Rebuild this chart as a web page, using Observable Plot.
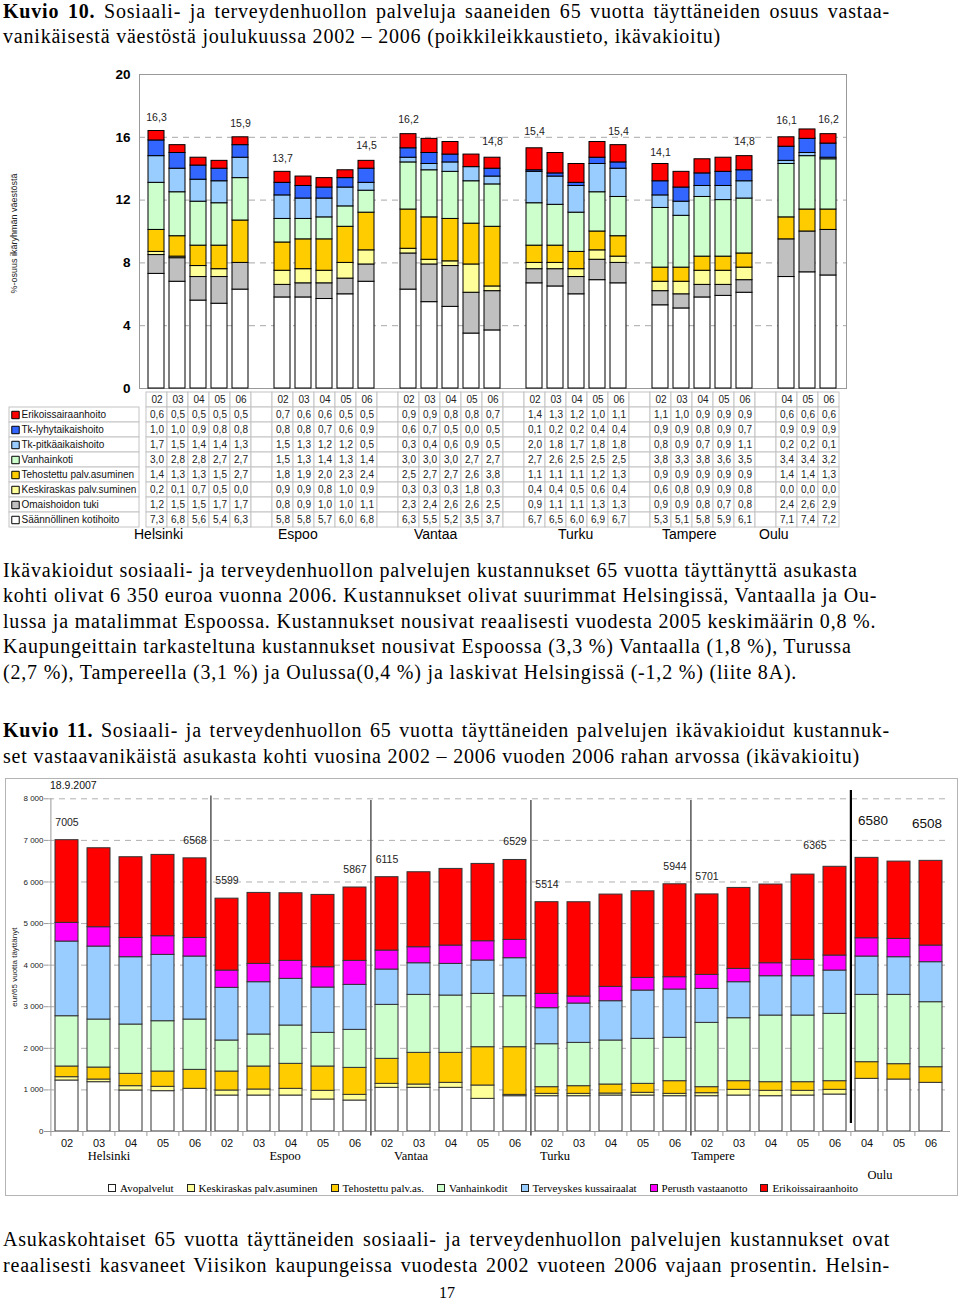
<!DOCTYPE html>
<html><head><meta charset="utf-8">
<script src="https://cdn.jsdelivr.net/npm/d3@7"></script>
<script src="https://cdn.jsdelivr.net/npm/@observablehq/plot@0.6"></script>
<style>
body{margin:0;background:#fff;}
#page{position:relative;width:960px;height:1300px;overflow:hidden;font-family:"Liberation Serif","Times New Roman",serif;color:#000;}
.ln{position:absolute;white-space:nowrap;}
.just{white-space:normal;text-align:justify;text-align-last:justify;}
svg{overflow:visible;}
</style></head><body><div id="page"></div>
<script>
// ---------------- DATA: Kuvio 10 (percent of age group) ----------------
const topCities = ["Helsinki","Espoo","Vantaa","Turku","Tampere","Oulu"];
const topYears = [["02","03","04","05","06"],["02","03","04","05","06"],["02","03","04","05","06"],["02","03","04","05","06"],["02","03","04","05","06"],["04","05","06"]];
const topSeries = ["Erikoissairaanhoito","Tk-lyhytaikaishoito","Tk-pitkäaikaishoito","Vanhainkoti","Tehostettu palv.asuminen","Keskiraskas palv.suminen","Omaishoidon tuki","Säännöllinen kotihoito"];
const topColors = ["#ff0000","#3366ff","#99ccff","#ccffcc","#ffcc00","#ffff99","#c0c0c0","#ffffff"];
const erikoissairaanhoito = [0.6,0.5,0.5,0.5,0.5, 0.7,0.6,0.6,0.5,0.5, 0.9,0.9,0.8,0.8,0.7, 1.4,1.3,1.2,1.0,1.1, 1.1,1.0,0.9,0.9,0.9, 0.6,0.6,0.6];
const tkLyhytaikaishoito = [1.0,1.0,0.9,0.8,0.8, 0.8,0.8,0.7,0.6,0.9, 0.6,0.7,0.5,0.0,0.5, 0.1,0.2,0.2,0.4,0.4, 0.9,0.9,0.8,0.9,0.7, 0.9,0.9,0.9];
const tkPitkaaikaishoito = [1.7,1.5,1.4,1.4,1.3, 1.5,1.3,1.2,1.2,0.5, 0.3,0.4,0.6,0.9,0.5, 2.0,1.8,1.7,1.8,1.8, 0.8,0.9,0.7,0.9,1.1, 0.2,0.2,0.1];
const vanhainkoti = [3.0,2.8,2.8,2.7,2.7, 1.5,1.3,1.4,1.3,1.4, 3.0,3.0,3.0,2.7,2.7, 2.7,2.6,2.5,2.5,2.5, 3.8,3.3,3.8,3.6,3.5, 3.4,3.4,3.2];
const tehostettu = [1.4,1.3,1.3,1.5,2.7, 1.8,1.9,2.0,2.3,2.4, 2.5,2.7,2.7,2.6,3.8, 1.1,1.1,1.1,1.2,1.3, 0.9,0.9,0.9,0.9,0.9, 1.4,1.4,1.3];
const keskiraskas = [0.2,0.1,0.7,0.5,0.0, 0.9,0.9,0.8,1.0,0.9, 0.3,0.3,0.3,1.8,0.3, 0.4,0.4,0.5,0.6,0.4, 0.6,0.8,0.9,0.9,0.8, 0.0,0.0,0.0];
const omaishoidonTuki = [1.2,1.5,1.5,1.7,1.7, 0.8,0.9,1.0,1.0,1.1, 2.3,2.4,2.6,2.6,2.5, 0.9,1.1,1.1,1.3,1.3, 0.9,0.9,0.8,0.7,0.8, 2.4,2.6,2.9];
const kotihoito = [7.3,6.8,5.6,5.4,6.3, 5.8,5.8,5.7,6.0,6.8, 6.3,5.5,5.2,3.5,3.7, 6.7,6.5,6.0,6.9,6.7, 5.3,5.1,5.8,5.9,6.1, 7.1,7.4,7.2];
const topValues = [erikoissairaanhoito,tkLyhytaikaishoito,tkPitkaaikaishoito,vanhainkoti,tehostettu,keskiraskas,omaishoidonTuki,kotihoito];
const topTotals = [{key:"Helsinki 02",value:16.3},{key:"Helsinki 06",value:15.9},{key:"Espoo 02",value:13.7},{key:"Espoo 06",value:14.5},{key:"Vantaa 02",value:16.2},{key:"Vantaa 06",value:14.8},{key:"Turku 02",value:15.4},{key:"Turku 06",value:15.4},{key:"Tampere 02",value:14.1},{key:"Tampere 06",value:14.8},{key:"Oulu 04",value:16.1},{key:"Oulu 06",value:16.2}];
const topYLabel = "%-osuus ikäryhmän väestöstä";

// ---------------- DATA: Kuvio 11 (eur per 65+ resident) ----------------
const bottomSeries = ["Avopalvelut","Keskiraskas palv.asuminen","Tehostettu palv.as.","Vanhainkodit","Terveyskes kussairaalat","Perusth vastaanotto","Erikoissairaanhoito"];
const bottomColors = ["#ffffff","#ffff99","#ffcc00","#ccffcc","#99ccff","#ff00ff","#ff0000"];
const avopalvelut = [1226,1186,986,970,1026, 865,865,865,769,745, 1050,1050,1050,785,849, 849,849,865,865,849, 849,865,849,865,889, 1266,1250,1170];
const keskiraskasEur = [80,64,104,104,0, 121,145,161,209,136, 96,80,120,321,32, 56,56,48,65,56, 72,137,129,113,113, 0,0,0];
const tehostettuEur = [257,288,296,368,456, 456,553,601,585,649, 601,761,721,921,1146, 161,185,217,216,305, 145,208,208,208,208, 401,369,376];
const vanhainkodit = [1209,1154,1186,1210,1210, 746,769,921,809,914, 1298,1394,1378,1282,1226, 1033,1041,1058,1082,1042, 1546,1514,1602,1602,1619, 1618,1666,1563];
const tkSairaalat = [1795,1755,1619,1595,1515, 1266,1258,1122,1090,1082, 849,761,761,802,914, 866,946,945,1161,1162, 817,866,946,946,1041, 922,906,962];
const perusthVastaanotto = [449,465,464,449,448, 416,440,433,488,577, 457,385,441,464,440, 344,168,345,305,296, 337,320,312,393,361, 440,440,400];
const erikoisEur = [1989,1899,1940,1955,1913, 1729,1707,1626,1739,1764, 1764,1803,1843,1859,1922, 2205,2268,2219,2083,2234, 1935,1947,1892,2051,2134, 1933,1859,2037];
const bottomValues = [avopalvelut,keskiraskasEur,tehostettuEur,vanhainkodit,tkSairaalat,perusthVastaanotto,erikoisEur];
const bottomTotals = [{key:"Helsinki 02",value:7005},{key:"Helsinki 06",value:6568},{key:"Espoo 02",value:5599},{key:"Espoo 06",value:5867},{key:"Vantaa 02",value:6115},{key:"Vantaa 06",value:6529},{key:"Turku 02",value:5514},{key:"Turku 06",value:5944},{key:"Tampere 02",value:5701}];
const bottomTotalsShifted = [{key:"Tampere 06",value:6365}];
const bottomTotalsOulu04 = [{key:"Oulu 04",value:6580}];
const bottomTotalsOulu06 = [{key:"Oulu 06",value:6508}];
const bottomYTicks = [0,1000,2000,3000,4000,5000,6000,7000,8000];
const bottomYLabel = "eur/65 vuotta täyttänyt";
const bottomDate = "18.9.2007";

// ---------------- TEXT ----------------
const title10 = ["Kuvio 10.", " Sosiaali- ja terveydenhuollon palveluja saaneiden 65 vuotta täyttäneiden osuus vastaa-", "vanikäisestä väestöstä joulukuussa 2002 – 2006 (poikkileikkaustieto, ikävakioitu)"];
const para1 = ["Ikävakioidut sosiaali- ja terveydenhuollon palvelujen kustannukset 65 vuotta täyttänyttä asukasta",
"kohti olivat 6 350 euroa vuonna 2006. Kustannukset olivat suurimmat Helsingissä, Vantaalla ja Ou-",
"lussa ja matalimmat Espoossa. Kustannukset nousivat reaalisesti vuodesta 2005 keskimäärin 0,8 %.",
"Kaupungeittain tarkasteltuna kustannukset nousivat Espoossa (3,3 %) Vantaalla (1,8 %), Turussa",
"(2,7 %), Tampereella (3,1 %) ja Oulussa(0,4 %) ja laskivat Helsingissä (-1,2 %) (liite 8A)."];
const title11 = ["Kuvio 11.", " Sosiaali- ja terveydenhuollon 65 vuotta täyttäneiden palvelujen ikävakioidut kustannuk-", "set vastaavanikäistä asukasta kohti vuosina 2002 – 2006 vuoden 2006 rahan arvossa (ikävakioitu)"];
const para2 = ["Asukaskohtaiset 65 vuotta täyttäneiden sosiaali- ja terveydenhuollon palvelujen kustannukset ovat",
"reaalisesti kasvaneet Viisikon kaupungeissa vuodesta 2002 vuoteen 2006 vajaan prosentin. Helsin-"];
const pageNumber = "17";

// ---------------- helpers ----------------
const page = document.getElementById("page");
const sans = "'Liberation Sans', Arial, sans-serif";
const serif = "'Liberation Serif', 'Times New Roman', serif";
function addLine(parts, baseline, {x=3, fs=20, lh=18, ls=0.8, justify=false, width=887, center=false} = {}) {
  const d = document.createElement("div");
  d.className = "ln" + (justify ? " just" : "");
  const top = baseline + (1.107*fs - lh)/2 - 0.891*fs;
  d.style.cssText += `top:${top}px;left:${x}px;font-size:${fs}px;line-height:${lh}px;letter-spacing:${ls}px;` + (justify ? `width:${width}px;` : "") + (center ? `width:${width}px;text-align:center;` : "");
  parts.forEach(p => {
    if (typeof p === "string") d.appendChild(document.createTextNode(p));
    else { const b = document.createElement("b"); b.textContent = p.b; d.appendChild(b); }
  });
  page.appendChild(d);
}
function place(node, left, top, z) {
  node.style.position = "absolute"; node.style.left = left + "px"; node.style.top = top + "px";
  if (z) node.style.zIndex = z;
  page.appendChild(node);
}
const fmtComma = v => v.toFixed(1).replace(".", ",");

// ---------------- texts ----------------
addLine([{b:title10[0]}, title10[1]], 18, {justify:true});
addLine([title10[2]], 43);
para1.forEach((t, i) => addLine([t], 576.7 + i*25.4));
addLine([{b:title11[0]}, title11[1]], 737, {justify:true});
addLine([title11[2]], 763);
para2.forEach((t, i) => addLine([t], 1246 + i*25.4, {justify:true}));
addLine([pageNumber], 1298, {fs:16, lh:12, ls:0, center:true, x:407, width:80});

// ---------------- Kuvio 10 slots ----------------
const slots = [], barKeys = [];
topCities.forEach((c, ci) => {
  if (ci > 0) slots.push("gap" + ci);
  topYears[ci].forEach(y => { const k = c + " " + y; slots.push(k); barKeys.push(k); });
});
const topData = [];
for (let s = topSeries.length - 1; s >= 0; s--) {
  barKeys.forEach((k, i) => topData.push({key:k, series:topSeries[s], value:topValues[s][i]}));
}

// data table under the bars
const tableRows = ["hdr", ...topSeries];
const cellData = [];
tableRows.forEach(r => slots.forEach(s => cellData.push({row:r, slot:s})));
const textData = barKeys.map(k => ({row:"hdr", slot:k, text:k.split(" ")[1]}));
topSeries.forEach((s, si) => barKeys.forEach((k, i) => textData.push({row:s, slot:k, text:fmtComma(topValues[si][i])})));
const topCityLabels = [{name:"Helsinki", slot:"Helsinki 02", dx:-23},{name:"Espoo", slot:"Espoo 02", dx:-5},{name:"Vantaa", slot:"Vantaa 02", dx:5},{name:"Turku", slot:"Turku 02", dx:23},{name:"Tampere", slot:"Tampere 02", dx:1},{name:"Oulu", slot:"gap5", dx:-7}];

const tablePlot = Plot.plot({
  width:960, height:158, marginTop:0, marginBottom:0, marginLeft:139, marginRight:114,
  style:{background:"transparent", fontFamily:sans, color:"#222"},
  x:{domain:slots, padding:0, axis:null},
  y:{domain:[...tableRows, "city"], padding:0, axis:null},
  color:{domain:topSeries, range:topColors},
  marks:[
    Plot.cell(cellData, {x:"slot", y:"row", fill:"white", stroke:"#c4c4c4"}),
    Plot.cell(topSeries, {y:d=>d, fill:"white", stroke:"#c4c4c4", insetLeft:-130, insetRight:707}),
    Plot.dot(topSeries, {y:d=>d, frameAnchor:"left", dx:-124, symbol:"square", r:4.2, fill:d=>d, stroke:"#000", strokeWidth:1}),
    Plot.text(topSeries, {y:d=>d, frameAnchor:"left", dx:-118, textAnchor:"start", fontSize:10, fill:"#111"}),
    Plot.text(textData, {x:"slot", y:"row", text:"text", fontSize:10, fill:"#222"}),
    ...topCityLabels.map(c => Plot.text([c], {x:"slot", y:()=>"city", text:"name", dx:c.dx, textAnchor:"start", fontSize:14, fill:"#000"}))
  ]
});
place(tablePlot, 0, 388, 1);

const topPlot = Plot.plot({
  width:960, height:334, marginTop:10, marginBottom:10, marginLeft:139, marginRight:114,
  style:{background:"transparent", fontFamily:sans, color:"#000"},
  x:{domain:slots, paddingInner:0.23, paddingOuter:0.115, axis:null},
  y:{domain:[0,20], axis:null},
  color:{domain:topSeries, range:topColors},
  marks:[
    Plot.ruleY([4,8,12,16], {stroke:"#a8a8a8", strokeDasharray:"6,5"}),
    Plot.frame({stroke:"#999"}),
    Plot.barY(topData, {x:"key", y:"value", fill:"series", stroke:"#000", strokeWidth:1}),
    Plot.text(topTotals, {x:"key", y:"value", text:d=>fmtComma(d.value), dy:-15, fontSize:10.5, fill:"#222"}),
    Plot.axisY({ticks:[0,4,8,12,16,20], tickSize:0, tickPadding:9, fontSize:13.5, fontWeight:"bold", label:null, fill:"#000"}),
    Plot.text([topYLabel], {frameAnchor:"left", dx:-125, dy:2, rotate:-90, textAnchor:"middle", fontSize:9, fill:"#222"})
  ]
});
place(topPlot, 0, 64, 2);

// ---------------- Kuvio 11 ----------------
const box = document.createElement("div");
box.style.cssText = "width:953px;height:418px;border:1px solid #b4b4b4;box-sizing:border-box;";
place(box, 5, 778, 0);

const dateDiv = document.createElement("div");
dateDiv.textContent = bottomDate;
dateDiv.style.cssText = `font-family:${sans};font-size:10.5px;line-height:12px;color:#111;`;
place(dateDiv, 50, 779, 3);

const bottomData = [];
bottomSeries.forEach((s, si) => barKeys.forEach((k, i) => bottomData.push({key:k, series:s, value:bottomValues[si][i]})));
const step = 902/28;
const cityStarts = ["Espoo 02","Vantaa 02","Turku 02","Tampere 02"];
const bottomCityLabels = [{name:"Helsinki", key:"Helsinki 03", dx:10, dy:28},{name:"Espoo", key:"Espoo 04", dx:-6, dy:28},{name:"Vantaa", key:"Vantaa 03", dx:-8, dy:28},{name:"Turku", key:"Turku 02", dx:8, dy:28},{name:"Tampere", key:"Tampere 02", dx:6, dy:28},{name:"Oulu", key:"Oulu 05", dx:-19, dy:47}];
const fmtThousands = d => d === 0 ? "0" : d3.format(",")(d).replace(",", " ");

const bottomPlot = Plot.plot({
  width:960, height:392, marginTop:20.3, marginBottom:39, marginLeft:48, marginRight:10,
  style:{background:"transparent", fontFamily:sans, color:"#000"},
  x:{domain:barKeys, paddingInner:0.28, paddingOuter:0.14, axis:null},
  y:{domain:[0,8000], axis:null},
  color:{domain:bottomSeries, range:bottomColors},
  marks:[
    Plot.ruleY(bottomYTicks.filter(d => d > 0), {stroke:"#b0b0b0", strokeDasharray:"6,5"}),
    Plot.barY(bottomData, {x:"key", y:"value", fill:"series", stroke:"#333", strokeWidth:1}),
    Plot.ruleY([0], {stroke:"#999"}),
    Plot.ruleX([barKeys[0]], {dx:-step/2, y1:0, y2:8000, stroke:"#999"}),
    Plot.ruleX(barKeys, {dx:-step/2, y1:0, y2:-120, stroke:"#999"}),
    Plot.ruleX(cityStarts.slice(0,1), {dx:-step/2, y1:0, y2:8070, stroke:"#555", strokeWidth:1.5}),
    Plot.ruleX(cityStarts.slice(1), {dx:-step/2, y1:-100, y2:7960, stroke:"#555", strokeWidth:1.5}),
    Plot.ruleX(["Oulu 04"], {dx:-step/2, y1:190, y2:8200, stroke:"#000", strokeWidth:2.2}),
    Plot.text(bottomTotals, {x:"key", y:"value", text:d=>String(d.value), dy:-18, fontSize:10.5, fill:"#222"}),
    Plot.text(bottomTotalsShifted, {x:"key", y:"value", text:d=>String(d.value), dy:-21, dx:-20, fontSize:10.5, fill:"#222"}),
    Plot.text(bottomTotalsOulu04, {x:"key", y:"value", text:d=>String(d.value), dy:-37, dx:6, fontSize:13.5, fill:"#111"}),
    Plot.text(bottomTotalsOulu06, {x:"key", y:"value", text:d=>String(d.value), dy:-37, dx:-4, fontSize:13.5, fill:"#111"}),
    Plot.axisY({ticks:bottomYTicks, tickSize:4, tickPadding:1, tickFormat:fmtThousands, fontSize:8, stroke:"#999", fill:"#222", label:null}),
    Plot.axisX({tickSize:0, tickPadding:8, tickFormat:d=>d.split(" ")[1], fontSize:11, fill:"#111", label:null}),
    ...bottomCityLabels.map(c => Plot.text([c], {x:"key", frameAnchor:"bottom", text:"name", dx:c.dx, dy:c.dy, fontSize:12.5, fontFamily:serif, fill:"#000"})),
    Plot.text([bottomYLabel], {frameAnchor:"left", dx:-34, dy:2, rotate:-90, textAnchor:"middle", fontSize:8, fill:"#222"})
  ]
});
place(bottomPlot, 0, 778, 2);

// legend (HTML swatches built from the series arrays)
const leg = document.createElement("div");
leg.style.cssText = `display:flex;align-items:center;gap:13px;font-family:${serif};font-size:11px;line-height:14px;color:#000;white-space:nowrap;`;
bottomSeries.forEach((s, i) => {
  const it = document.createElement("span");
  it.style.cssText = "display:inline-flex;align-items:center;gap:4px;";
  const sw = document.createElement("span");
  sw.style.cssText = `display:inline-block;width:8px;height:8px;border:1px solid #222;box-sizing:border-box;background:${bottomColors[i]};`;
  it.appendChild(sw);
  it.appendChild(document.createTextNode(s));
  leg.appendChild(it);
});
place(leg, 108, 1181, 3);
</script></body></html>
